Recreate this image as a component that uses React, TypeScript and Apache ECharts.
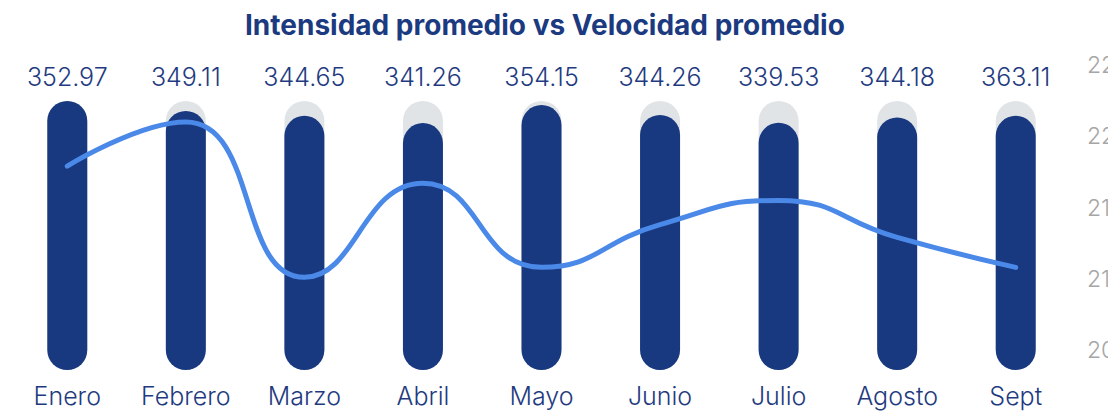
import React, { useEffect, useRef } from "react";
import * as echarts from "echarts";

const months = ["Enero", "Febrero", "Marzo", "Abril", "Mayo", "Junio", "Julio", "Agosto", "Sept"];
const intensityLabels = [352.97, 349.11, 344.65, 341.26, 354.15, 344.26, 339.53, 344.18, 363.11];
const barValues = [100, 96.3, 94.5, 91.8, 98.5, 94.8, 91.9, 93.9, 94.5];
const barMax = 100;
const velocity = [21.79, 22.1, 21.01, 21.67, 21.08, 21.38, 21.55, 21.29, 21.08];

const FONT = "Inter";

export default function App() {
  const ref = useRef<HTMLDivElement>(null);
  useEffect(() => {
    if (!ref.current) return;
    const chart = echarts.init(ref.current, null, { renderer: "svg" });
    chart.setOption({
      animation: false,
      backgroundColor: "#ffffff",
      title: {
        text: "Intensidad promedio vs Velocidad promedio",
        left: 240,
        top: 6,
        textStyle: { fontFamily: FONT, fontWeight: 700, fontSize: 28, color: "#1b3a80" },
      },
      grid: [
        { left: 8, right: 33, top: 101, bottom: 43, outerBoundsMode: "none", containLabel: false },
        { left: 8, right: 33, top: 65, bottom: 63, outerBoundsMode: "none", containLabel: false },
      ],
      xAxis: [
        {
          type: "category",
          data: months,
          gridIndex: 0,
          axisLine: { show: false },
          axisTick: { show: false },
          axisLabel: {
            interval: 0,
            hideOverlap: false,
            fontFamily: FONT,
            fontWeight: 300,
            fontSize: 25,
            color: "#1f3b7f",
            margin: 13,
          },
        },
        {
          type: "category",
          data: months,
          gridIndex: 1,
          show: false,
        },
      ],
      yAxis: [
        { type: "value", gridIndex: 0, min: 0, max: barMax, show: false },
        {
          type: "value",
          gridIndex: 1,
          position: "right",
          min: 20.5,
          max: 22.5,
          interval: 0.5,
          splitLine: { show: false },
          axisLine: { show: false },
          axisTick: { show: false },
          axisLabel: { fontFamily: FONT, fontWeight: 300, fontSize: 23, color: "#a6a6a6", margin: 12 },
        },
      ],
      series: [
        {
          type: "bar",
          xAxisIndex: 0,
          yAxisIndex: 0,
          data: months.map(() => barMax),
          barWidth: 40,
          itemStyle: { color: "#e1e4e7", borderRadius: 20 },
          label: {
            show: true,
            position: "top",
            distance: 12,
            fontFamily: FONT,
            fontWeight: 300,
            fontSize: 25,
            color: "#1f3b7f",
            formatter: (p: any) => intensityLabels[p.dataIndex].toFixed(2),
          },
          silent: true,
        },
        {
          type: "bar",
          xAxisIndex: 0,
          yAxisIndex: 0,
          data: barValues,
          barWidth: 40,
          barGap: "-100%",
          itemStyle: { color: "#183880", borderRadius: 20 },
        },
        {
          type: "line",
          xAxisIndex: 1,
          yAxisIndex: 1,
          data: velocity,
          smooth: true,
          showSymbol: false,
          lineStyle: { color: "#4a89e8", width: 5, cap: "round" },
          z: 5,
        },
      ],
    });
    return () => chart.dispose();
  }, []);
  return (
    <div
      ref={ref}
      style={{ position: "fixed", left: 0, top: 0, width: 1108, height: 413 }}
    />
  );
}
